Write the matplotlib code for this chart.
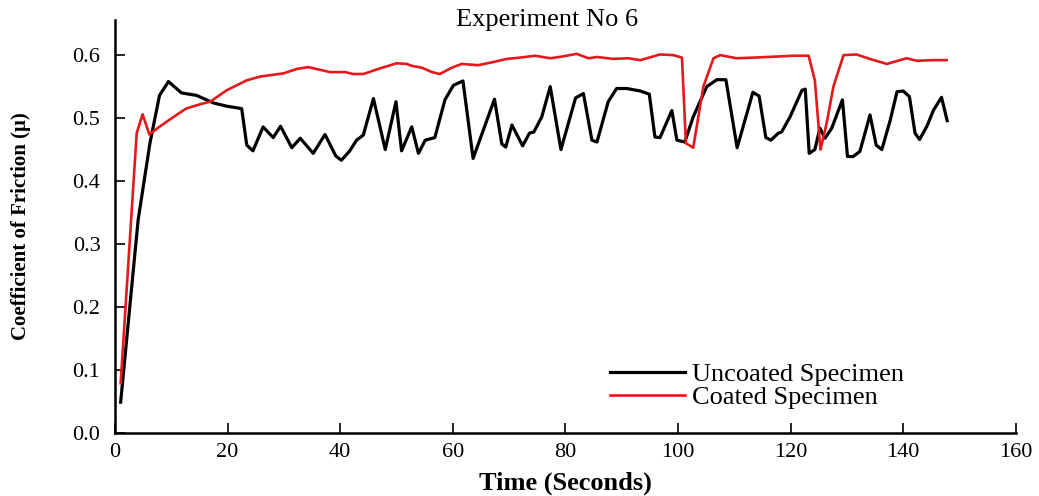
import matplotlib
matplotlib.use("Agg")
import matplotlib.pyplot as plt

# friction readings, uncoated specimen
t_uncoated = [1.0, 4.1, 6.2, 7.9, 9.5, 11.8, 14.5, 17.5, 19.8, 22.5, 23.4, 24.5,
              26.3, 28.1, 29.4, 31.4, 32.9, 35.2, 37.3, 39.2, 40.2, 41.7, 42.9,
              44.1, 45.9, 48.0, 49.9, 50.9, 52.7, 53.9, 55.1, 56.8, 58.6, 60.1,
              61.8, 63.6, 67.4, 68.7, 69.4, 70.5, 72.4, 73.6, 74.4, 75.8, 77.3,
              79.2, 81.8, 83.2, 84.7, 85.6, 87.6, 89.1, 90.9, 93.3, 94.9, 95.9,
              96.8, 98.9, 99.8, 101.2, 102.7, 105.1, 106.9, 108.5, 110.5, 113.3,
              114.4, 115.6, 116.5, 117.8, 118.4, 119.9, 122.0, 122.6, 123.3,
              124.3, 125.2, 126.1, 127.3, 129.2, 130.1, 131.1, 132.3, 134.1,
              135.2, 136.2, 137.7, 138.9, 140.0, 141.1, 142.1, 142.9, 144.2,
              145.4, 146.8, 147.8]
mu_uncoated = [0.049, 0.338, 0.46, 0.536, 0.558, 0.54, 0.536, 0.524, 0.519, 0.515,
               0.457, 0.448, 0.486, 0.469, 0.487, 0.453, 0.468, 0.444, 0.474,
               0.44, 0.433, 0.448, 0.465, 0.473, 0.531, 0.45, 0.526, 0.448,
               0.486, 0.444, 0.465, 0.469, 0.529, 0.552, 0.559, 0.436, 0.53,
               0.459, 0.454, 0.489, 0.456, 0.476, 0.478, 0.502, 0.55, 0.45,
               0.532, 0.539, 0.465, 0.462, 0.526, 0.547, 0.547, 0.543, 0.538,
               0.47, 0.469, 0.512, 0.465, 0.462, 0.502, 0.55, 0.561, 0.561,
               0.453, 0.541, 0.535, 0.469, 0.465, 0.476, 0.478, 0.502, 0.544,
               0.546, 0.444, 0.45, 0.484, 0.468, 0.484, 0.529, 0.439, 0.439,
               0.447, 0.505, 0.457, 0.45, 0.497, 0.542, 0.543, 0.534, 0.476,
               0.466, 0.487, 0.513, 0.533, 0.496]

# friction readings, coated specimen
t_coated = [1.0, 3.85, 4.9, 6.1, 7.7, 10.1, 12.6, 15.1, 16.9, 19.8, 23.4, 25.8,
            29.9, 32.3, 34.3, 38.2, 40.9, 42.3, 44.1, 47.1, 50.0, 51.8, 52.7,
            54.5, 56.3, 57.7, 59.8, 61.6, 64.5, 67.2, 69.6, 71.9, 74.6, 77.3,
            79.6, 82.0, 84.1, 85.6, 88.5, 91.2, 93.3, 96.8, 99.2, 100.7, 101.4,
            102.7, 104.5, 106.3, 107.5, 110.4, 113.4, 115.8, 120.5, 123.2,
            124.3, 125.3, 126.4, 127.6, 129.4, 131.7, 134.4, 137.1, 140.6,
            142.4, 145.4, 147.7]
mu_coated = [0.079, 0.476, 0.506, 0.474, 0.485, 0.5, 0.515, 0.522, 0.526, 0.544,
             0.56, 0.566, 0.571, 0.578, 0.581, 0.573, 0.573, 0.57, 0.57, 0.579,
             0.587, 0.586, 0.583, 0.58, 0.573, 0.57, 0.58, 0.586, 0.584, 0.589,
             0.594, 0.596, 0.599, 0.595, 0.598, 0.602, 0.595, 0.597, 0.594,
             0.595, 0.592, 0.601, 0.6, 0.596, 0.46, 0.453, 0.55, 0.595, 0.6,
             0.595, 0.596, 0.597, 0.599, 0.599, 0.56, 0.45, 0.492, 0.55, 0.6,
             0.601, 0.593, 0.586, 0.595, 0.591, 0.592, 0.592]

x_ticks = [0, 20, 40, 60, 80, 100, 120, 140, 160]
y_ticks = [0.0, 0.1, 0.2, 0.3, 0.4, 0.5, 0.6]

plt.rcParams['font.family'] = ['Liberation Serif', 'DejaVu Serif']

fig = plt.figure(figsize=(10.39, 4.96), dpi=100)
ax = fig.add_axes([0.1107, 0.127, 0.867, 0.833])

ax.plot(t_uncoated, mu_uncoated, color='black', lw=2.3, label='Uncoated Specimen')
ax.plot(t_coated, mu_coated, color='#e3191c', lw=1.9, label='Coated Specimen')

ax.set_xlim(0, 160)
ax.set_ylim(0, 0.656)
ax.set_xticks(x_ticks)
ax.set_yticks(y_ticks)
ax.set_yticklabels([f'{v:.1f}' for v in y_ticks])
ax.tick_params(direction='in', length=7, width=1.2, labelsize=16)
ax.tick_params(axis='y', pad=10.5)
ax.tick_params(axis='x', pad=7)

for side in ['top', 'right']:
    ax.spines[side].set_visible(False)
for side in ['left', 'bottom']:
    ax.spines[side].set_linewidth(1.8)

ax.text(0.48, 1.0, 'Experiment No 6', transform=ax.transAxes,
        ha='center', va='center', fontsize=19)
ax.set_xlabel('Time (Seconds)', fontsize=19, fontweight='bold', labelpad=7)
ax.set_ylabel('Coefficient of Friction (\u03bc)', fontsize=15, fontweight='bold',
              labelpad=30)

ax.legend(loc='lower left', bbox_to_anchor=(0.549, 0.057), frameon=False,
          fontsize=19, handlelength=2.85, handletextpad=0.27, labelspacing=0.0,
          borderaxespad=0, borderpad=0)

fig.savefig('out.png', dpi=100)
